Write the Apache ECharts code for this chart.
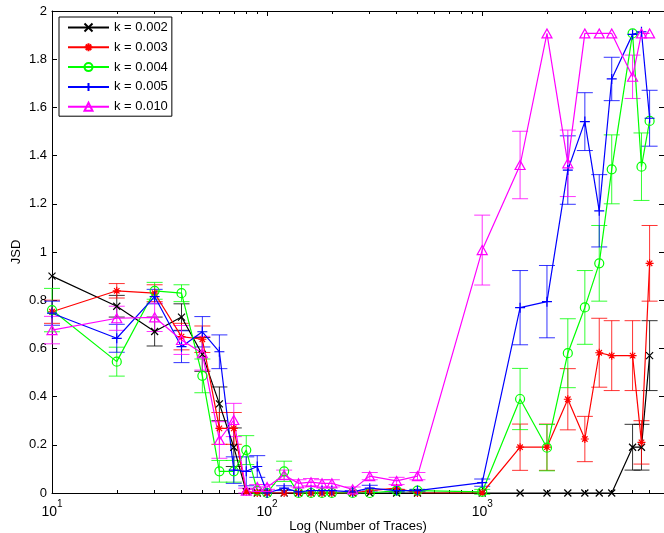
<!DOCTYPE html>
<html><head><meta charset="utf-8">
<script src="https://cdn.jsdelivr.net/npm/echarts@6/dist/echarts.min.js"></script>
<style>html,body{margin:0;padding:0;background:#fff}#c{width:664px;height:533px}</style>
</head><body><div id="c"></div>
<script>
// ---- data ----
const traces = [10,20,30,40,50,60,70,80,90,100,120,140,160,180,200,250,300,400,500,1000,1500,2000,2500,3000,3500,4000,5000,5500,6000];

const k002 = [0.90,0.775,0.67,0.73,0.575,0.37,0.19,0.005,0,0,0,0,0,0,0,0,0,0,0,0,0,0,0,0,0,0,0.19,0.19,0.57];
const k002Err = [0,0.045,0.06,0.055,0.07,0.07,0.08,0,0,0,0,0,0,0,0,0,0,0,0,0,0,0,0,0,0,0,0.095,0.095,0.145];

const k003 = [0.752,0.839,0.829,0.649,0.638,0.268,0.268,0.005,0,0,0,0,0,0,0,0,0.01,0.02,0,0,0.19,0.19,0.389,0.224,0.582,0.57,0.57,0.21,0.953];
const k003Err = [0.048,0.03,0.035,0.055,0.055,0.066,0.066,0,0,0,0,0,0,0,0,0,0,0,0,0,0.096,0.096,0.127,0.094,0.143,0.145,0.145,0.09,0.157];

const k004 = [0.759,0.545,0.839,0.829,0.486,0.09,0.09,0.178,0.01,0,0.09,0,0,0,0,0,0,0.01,0.01,0.005,0.39,0.188,0.58,0.77,0.953,1.343,1.907,1.354,1.544];
const k004Err = [0.09,0.06,0.035,0.035,0.07,0.045,0.045,0.06,0,0,0.042,0,0,0,0,0,0,0.005,0.005,0.01,0.127,0.096,0.143,0.153,0.157,0.143,0,0.14,0];

const k005 = [0.746,0.642,0.815,0.607,0.669,0.586,0.095,0.09,0.11,0,0.02,0.005,0.01,0.01,0.01,0.005,0.02,0.01,0.01,0.043,0.769,0.794,1.34,1.541,1.171,1.718,1.903,1.914,1.555];
const k005Err = [0.05,0.058,0.03,0.066,0.063,0.07,0.055,0.06,0.045,0,0.01,0,0,0,0,0.005,0.012,0.005,0.005,0.015,0.154,0.15,0.142,0.12,0.15,0.09,0,0,0.116];

const k010 = [0.676,0.725,0.729,0.635,0.58,0.22,0.303,0.01,0.025,0.025,0.075,0.04,0.045,0.04,0.04,0.015,0.07,0.05,0.07,1.008,1.361,1.907,1.368,1.907,1.907,1.907,1.727,1.907,1.907];
const k010Err = [0.057,0.05,0.059,0.06,0.07,0.076,0.069,0.01,0.01,0.01,0.02,0.015,0.015,0.015,0.015,0.01,0.015,0.015,0.015,0.145,0.14,0,0.138,0,0,0,0.09,0,0];

const seriesNames = ['k = 0.002','k = 0.003','k = 0.004','k = 0.005','k = 0.010'];
const xMajorTicks = [10,100,1000];
const xMinorTicks = [20,30,40,50,60,70,80,90,200,300,400,500,600,700,800,900,2000,3000,4000,5000,6000,7000];
const xLabel = 'Log (Number of Traces)';
const yLabel = 'JSD';

// ---- styling ----
const FONT = 'Liberation Sans, Arial, Helvetica, sans-serif';
const colors = ['#000000','#ff0000','#00ff00','#0000ff','#ff00ff'];
const symbols = [
  'path://M0,0L10,10M10,0L0,10',
  'path://M5,0L5,10M0,5L10,5M1.6,1.6L8.4,8.4M8.4,1.6L1.6,8.4',
  'circle',
  'path://M5,0L5,10M0,5L10,5',
  'path://M5,0L10,8.66L0,8.66Z'
];
const symbolSizes = [7, 8, 9, 10, [10, 9]];
const values = [k002,k003,k004,k005,k010];
const errs = [k002Err,k003Err,k004Err,k005Err,k010Err];

function errRender(color){
  return function(params, api){
    const x = api.value(0), lo = api.value(1), hi = api.value(2);
    const a = api.coord([x, lo]), b = api.coord([x, hi]);
    const w = 8;
    const st = {stroke: color, lineWidth: 1, opacity: 0.8};
    return {type:'group', children:[
      {type:'line', shape:{x1:a[0],y1:a[1],x2:b[0],y2:b[1]}, style:st},
      {type:'line', shape:{x1:a[0]-w,y1:a[1],x2:a[0]+w,y2:a[1]}, style:st},
      {type:'line', shape:{x1:b[0]-w,y1:b[1],x2:b[0]+w,y2:b[1]}, style:st}
    ]};
  };
}

const series = [];
for (let i = 0; i < 5; i++) {
  const ebData = [];
  traces.forEach((t, j) => { if (errs[i][j] > 0) ebData.push([t, values[i][j]-errs[i][j], values[i][j]+errs[i][j]]); });
  series.push({
    type:'custom', name: seriesNames[i] + ' err', renderItem: errRender(colors[i]),
    data: ebData, encode:{x:0, y:[1,2]}, xAxisIndex:0, yAxisIndex:0, silent:true, z:2
  });
  series.push({
    type:'line', name: seriesNames[i], xAxisIndex:0, yAxisIndex:0,
    data: traces.map((t, j) => [t, values[i][j]]),
    symbol: symbols[i], symbolSize: symbolSizes[i], showSymbol:true, showAllSymbol:true,
    lineStyle:{color: colors[i], width:1.2},
    itemStyle:{color:'rgba(0,0,0,0)', borderColor: colors[i], borderWidth:1.2},
    z:3
  });
}

const labelRich = {
  b:{fontFamily:FONT, fontSize:14, color:'#000', lineHeight:20, verticalAlign:'bottom'},
  s:{fontFamily:FONT, fontSize:10, color:'#000', lineHeight:20, verticalAlign:'top'}
};

function xAx(position, ticks, len, showLabel, showLine){
  return {
    type:'log', logBase:10, min:10, max:7000, position: position, gridIndex:0,
    axisLine:{show:showLine, lineStyle:{color:'#000', width:1}},
    axisTick:{show:true, inside:true, length:len, customValues: ticks, lineStyle:{color:'#000', width:1}},
    axisLabel: showLabel ? {
      show:true, customValues: xMajorTicks, margin:6,
      formatter: v => '{b|10}{s|' + Math.round(Math.log10(v)) + '}', rich: labelRich
    } : {show:false},
    splitLine:{show:false}, minorTick:{show:false},
    name: showLabel ? xLabel : '', nameLocation:'middle', nameGap:33, nameMoveOverlap:false,
    nameTextStyle:{fontFamily:FONT, fontSize:13, color:'#000', verticalAlign:'middle'}
  };
}

const option = {
  animation:false,
  backgroundColor:'#fff',
  grid:{left:52, top:11, width:612, height:482, containLabel:false, outerBoundsMode:'none'},
  legend:{
    data: seriesNames, orient:'vertical', left:59, top:17,
    borderColor:'#000', borderWidth:1, backgroundColor:'#fff',
    padding:[4,4,3,8], itemWidth:41, itemHeight:10, itemGap:6.8,
    textStyle:{fontFamily:FONT, fontSize:13, color:'#000'}
  },
  xAxis:[
    xAx('bottom', xMajorTicks, 5, true, true),
    xAx('bottom', xMinorTicks, 3, false, false),
    xAx('top', xMajorTicks, 5, false, true),
    xAx('top', xMinorTicks, 3, false, false)
  ],
  yAxis:[
    {type:'value', min:0, max:2, interval:0.2, position:'left',
     axisLine:{show:true, lineStyle:{color:'#000'}},
     axisTick:{show:true, inside:true, length:5, lineStyle:{color:'#000'}},
     axisLabel:{fontFamily:FONT, fontSize:13, color:'#000', margin:5},
     splitLine:{show:false},
     name: yLabel, nameLocation:'middle', nameGap:36, nameRotate:90, nameMoveOverlap:false,
     nameTextStyle:{fontFamily:FONT, fontSize:13, color:'#000', verticalAlign:'middle'}},
    {type:'value', min:0, max:2, interval:0.2, position:'right',
     axisLine:{show:true, lineStyle:{color:'#000'}},
     axisTick:{show:true, inside:true, length:5, lineStyle:{color:'#000'}},
     axisLabel:{show:false}, splitLine:{show:false}}
  ],
  series: series
};

echarts.init(document.getElementById('c'), null, {renderer:'canvas'}).setOption(option);
</script>
</body></html>
